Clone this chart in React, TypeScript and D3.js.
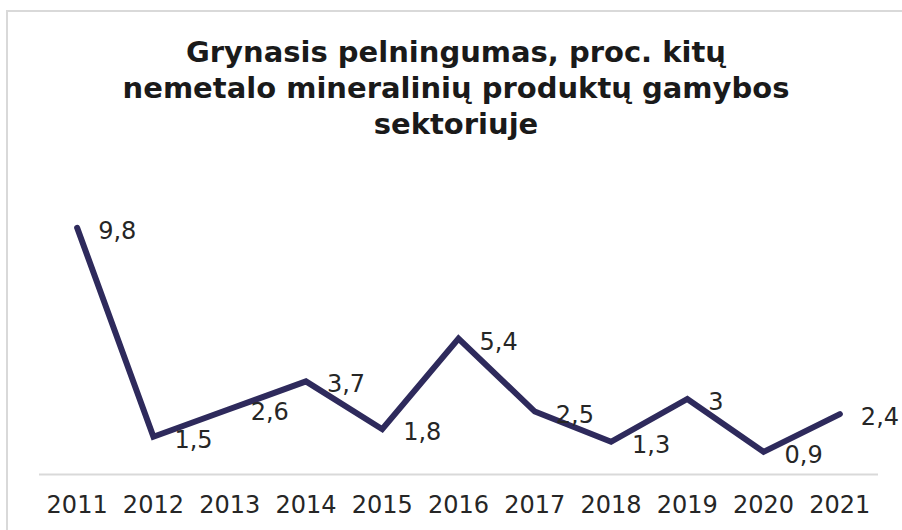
import React from "react";
import * as d3 from "d3";

const years = ["2011","2012","2013","2014","2015","2016","2017","2018","2019","2020","2021"];
const values = [9.8, 1.5, 2.6, 3.7, 1.8, 5.4, 2.5, 1.3, 3, 0.9, 2.4];
const labels = ["9,8","1,5","2,6","3,7","1,8","5,4","2,5","1,3","3","0,9","2,4"];
const titleLines = ["Grynasis pelningumas, proc. kitų", "nemetalo mineralinių produktų gamybos", "sektoriuje"];

const W = 902, H = 530;
const FONT = "'DejaVu Sans', Verdana, sans-serif";

export default function App() {
  const x = d3.scaleBand<string>().domain(years).range([39, 878]);
  const y = d3.scaleLinear().domain([0, 10]).range([474.5, 222.7]);
  const line = d3.line<number>()
    .x((_, i) => (x(years[i]) as number) + x.bandwidth() / 2)
    .y((d) => y(d));
  return (
    <svg width={W} height={H} style={{ position: "absolute", left: 0, top: 0 }}>
      <rect x={0} y={0} width={W} height={H} fill="#fff" />
      <path d={`M7,${H} V11 H${W}`} fill="none" stroke="#d9d9d9" strokeWidth={2} />
      {titleLines.map((t, i) => (
        <text key={i} x={456} y={62 + i * 36} textAnchor="middle" fontFamily={FONT}
          fontWeight="bold" fontSize={29} fill="#1a1a1a">{t}</text>
      ))}
      <line x1={x.range()[0]} x2={x.range()[1]} y1={y(0)} y2={y(0)} stroke="#d9d9d9" strokeWidth={2} />
      <path d={line(values) || ""} fill="none" stroke="#2e2a5c" strokeWidth={6}
        strokeLinejoin="miter" strokeLinecap="round" />
      {values.map((v, i) => (
        <text key={i} x={(x(years[i]) as number) + x.bandwidth() / 2 + 21} y={y(v) + 3}
          dominantBaseline="central" fontFamily={FONT} fontSize={24} fill="#262626">{labels[i]}</text>
      ))}
      {years.map((yr) => (
        <text key={yr} x={(x(yr) as number) + x.bandwidth() / 2} y={513} textAnchor="middle"
          fontFamily={FONT} fontSize={24} fill="#262626">{yr}</text>
      ))}
    </svg>
  );
}
